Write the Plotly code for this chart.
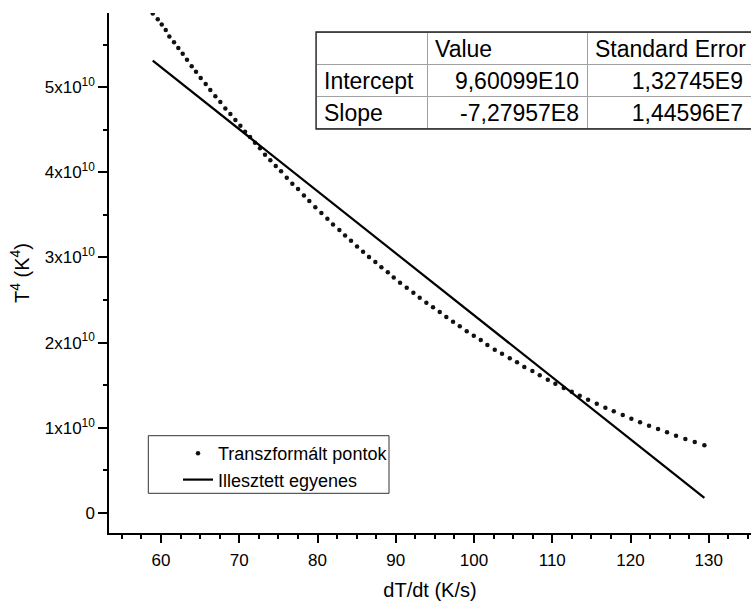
import plotly.graph_objects as go

# Transformed points (dT/dt in K/s, T^4 in units of 1e10 K^4)
dTdt = [58.94, 59.58, 60.09, 60.60, 61.06, 61.66, 62.21, 62.77, 63.32, 63.92,
        64.47, 65.07, 65.71, 66.30, 66.94, 67.58, 68.22, 68.86, 69.50, 70.14,
        70.74, 71.38, 72.01, 72.65, 73.29, 73.97, 74.66, 75.34, 76.07, 76.78,
        77.51, 78.26, 78.95, 79.72, 80.49, 81.26, 81.98, 82.79, 83.52, 84.28,
        85.05, 85.82, 86.58, 87.39, 88.16, 88.98, 89.74, 90.55, 91.40, 92.25,
        93.06, 93.91, 94.76, 95.62, 96.46, 97.32, 98.18, 99.07, 99.97, 100.86,
        101.71, 102.65, 103.58, 104.57, 105.50, 106.43, 107.46, 108.40, 109.43, 110.40,
        111.47, 112.49, 113.51, 114.58, 115.69, 116.79, 117.86, 119.01, 120.11, 121.22,
        122.37, 123.52, 124.67, 125.82, 127.01, 128.21, 129.44]
T4_e10 = [5.865, 5.798, 5.736, 5.669, 5.595, 5.528, 5.458, 5.391, 5.320, 5.246,
          5.180, 5.106, 5.035, 4.965, 4.894, 4.824, 4.750, 4.683, 4.613, 4.546,
          4.475, 4.413, 4.346, 4.281, 4.205, 4.140, 4.073, 4.011, 3.935, 3.865,
          3.803, 3.727, 3.662, 3.588, 3.521, 3.454, 3.388, 3.322, 3.259, 3.196,
          3.130, 3.067, 3.005, 2.946, 2.884, 2.825, 2.766, 2.703, 2.644, 2.586,
          2.527, 2.468, 2.414, 2.359, 2.300, 2.245, 2.191, 2.133, 2.081, 2.031,
          1.972, 1.917, 1.870, 1.816, 1.769, 1.714, 1.667, 1.616, 1.565, 1.518,
          1.467, 1.424, 1.377, 1.330, 1.283, 1.236, 1.194, 1.150, 1.107, 1.065,
          1.025, 0.986, 0.947, 0.907, 0.869, 0.833, 0.795]
T4 = [v * 1e10 for v in T4_e10]

# Fit results (from the table)
intercept = 9.60099e10
slope = -7.27957e8
table_rows = ["Intercept", "Slope"]
table_values = ["9,60099E10", "-7,27957E8"]
table_errors = ["1,32745E9", "1,44596E7"]
table_header = ["", "Value", "Standard\u00a0Error"]

y_tickvals = [0, 1e10, 2e10, 3e10, 4e10, 5e10]
y_ticktext = ["0", "1x10<sup>10</sup>", "2x10<sup>10</sup>", "3x10<sup>10</sup>",
              "4x10<sup>10</sup>", "5x10<sup>10</sup>"]

fit_x = [min(dTdt), max(dTdt)]
fit_y = [intercept + slope * v for v in fit_x]

FONT = "Liberation Sans, Arial, sans-serif"
W, H = 751, 602
L, R, T, B = 109, 0, 13, 69
pw, ph = W - L - R, H - T - B

def px(xp):
    return (xp - L) / pw

def py(yp):
    return (H - B - yp) / ph

fig = go.Figure()
fig.add_trace(go.Scatter(
    x=dTdt, y=T4, mode="markers", name="Transzformált pontok",
    marker=dict(size=4.5, color="#111111", line=dict(width=0)),
    legendgroup="a", cliponaxis=True))
fig.add_trace(go.Scatter(
    x=fit_x, y=fit_y, mode="lines", name="Illesztett egyenes",
    line=dict(color="black", width=2.2), legendgroup="b"))

fig.add_trace(go.Table(
    domain=dict(x=[px(316), 1.0], y=[py(129), py(32)]),
    columnwidth=[111, 160, 164],
    header=dict(values=table_header, align=["left", "left", "left"],
                height=32, fill_color="white",
                line=dict(color="#a0a0a0", width=1),
                font=dict(family=FONT, size=23, color="black")),
    cells=dict(values=[table_rows, table_values, table_errors],
               align=["left", "right", "right"], height=32,
               fill_color="white", line=dict(color="#a0a0a0", width=1),
               font=dict(family=FONT, size=23, color="black")),
))

fig.update_layout(
    width=W, height=H,
    margin=dict(l=L, r=R, t=T, b=B, pad=0),
    paper_bgcolor="white", plot_bgcolor="white",
    font=dict(family=FONT, color="black"),
    showlegend=True,
    legend=dict(x=px(178), y=py(435), xanchor="left", yanchor="top",
                bgcolor="rgba(0,0,0,0)", borderwidth=0,
                font=dict(family=FONT, size=18, color="black"),
                tracegroupgap=0, traceorder="grouped"),
    shapes=[
        dict(type="rect", xref="paper", yref="paper",
             x0=px(148.3), x1=px(389), y0=py(493.3), y1=py(435.7),
             line=dict(color="#333333", width=1), layer="above"),
        dict(type="rect", xref="paper", yref="paper",
             x0=px(316), x1=px(760), y0=py(129), y1=py(32),
             line=dict(color="#222222", width=1.3), layer="above"),
    ],
)

fig.update_xaxes(
    range=[53.35, 135.4], tick0=0, dtick=10,
    ticks="outside", ticklen=8, tickwidth=1.5, tickcolor="black",
    minor=dict(dtick=2.5, tick0=0, ticks="outside", ticklen=4,
               tickwidth=1.5, tickcolor="black", showgrid=False),
    showline=True, linewidth=1.5, linecolor="black",
    showgrid=False, zeroline=False, ticklabelstandoff=3,
    tickfont=dict(family=FONT, size=17, color="black"),
    title=dict(text="dT/dt (K/s)", font=dict(family=FONT, size=20, color="black"),
               standoff=14),
)
fig.update_yaxes(
    range=[-2.35e9, 5.87e10],
    tickvals=y_tickvals, ticktext=y_ticktext,
    ticks="outside", ticklen=9, tickwidth=1.5, tickcolor="black",
    minor=dict(dtick=5e9, tick0=0, ticks="outside", ticklen=4,
               tickwidth=1.5, tickcolor="black", showgrid=False),
    showline=True, linewidth=1.5, linecolor="black",
    showgrid=False, zeroline=False,
    tickfont=dict(family=FONT, size=17, color="black"),
    title=dict(text="T<sup>4</sup> (K<sup>4</sup>)",
               font=dict(family=FONT, size=20, color="black"), standoff=10),
)

fig.write_html("out.html")
